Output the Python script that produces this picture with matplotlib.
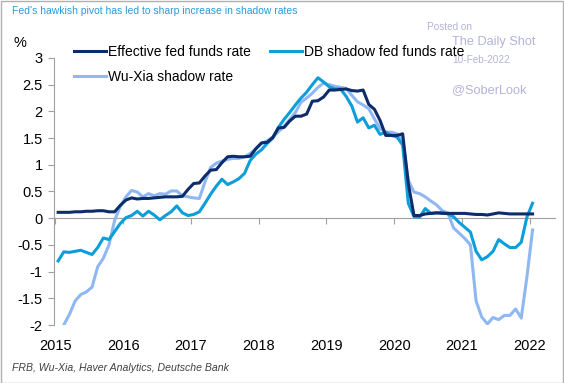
import numpy as np
import matplotlib
matplotlib.use('Agg')
import matplotlib.pyplot as plt
from matplotlib.patches import Rectangle

plt.rcParams['font.family'] = ['Liberation Sans', 'DejaVu Sans']

# Monthly data, Jan 2015 .. Jan 2022
effr = [0.11, 0.11, 0.11, 0.12, 0.12, 0.13, 0.13, 0.14, 0.14, 0.12, 0.12, 0.24,
        0.34, 0.38, 0.36, 0.37, 0.37, 0.38, 0.39, 0.40, 0.40, 0.40, 0.41, 0.54,
        0.65, 0.66, 0.79, 0.90, 0.91, 1.04, 1.15, 1.16, 1.15, 1.15, 1.16, 1.30,
        1.41, 1.42, 1.51, 1.69, 1.70, 1.82, 1.91, 1.91, 1.95, 2.19, 2.20, 2.27,
        2.40, 2.40, 2.41, 2.42, 2.39, 2.38, 2.40, 2.13, 2.04, 1.83, 1.55, 1.55,
        1.55, 1.58, 0.65, 0.05, 0.05, 0.08, 0.09, 0.10, 0.09, 0.09, 0.09, 0.09,
        0.09, 0.08, 0.07, 0.07, 0.06, 0.08, 0.10, 0.09, 0.08, 0.08, 0.08, 0.08,
        0.08]

db_shadow = [-0.80, -0.63, -0.64, -0.62, -0.60, -0.64, -0.68, -0.55, -0.37, -0.40, -0.25, -0.10,
             0.01, 0.05, 0.13, 0.04, 0.13, 0.06, -0.03, 0.05, 0.12, 0.23, 0.10, 0.05,
             0.07, 0.12, 0.28, 0.45, 0.60, 0.73, 0.63, 0.68, 0.74, 0.84, 1.08, 1.20,
             1.28, 1.40, 1.50, 1.70, 1.85, 1.98, 2.12, 2.25, 2.36, 2.50, 2.63, 2.55,
             2.46, 2.42, 2.42, 2.28, 2.10, 1.80, 1.88, 1.69, 1.74, 1.57, 1.61, 1.55,
             1.52, 1.37, 0.28, 0.03, 0.02, 0.18, 0.09, 0.10, 0.11, 0.08, 0.03, -0.08,
             -0.17, -0.26, -0.62, -0.78, -0.72, -0.62, -0.40, -0.48, -0.55, -0.55, -0.45, 0.02,
             0.28]

wu_xia = [np.nan, -2.00, -1.80, -1.55, -1.43, -1.38, -1.29, -0.91, -0.75, -0.50, -0.04, 0.22,
          0.40, 0.52, 0.49, 0.40, 0.46, 0.42, 0.46, 0.45, 0.51, 0.51, 0.42, 0.40,
          0.38, 0.37, 0.68, 0.95, 1.03, 1.07, 1.10, 1.12, 1.12, 1.15, 1.21, 1.30,
          1.40, 1.45, 1.52, 1.62, 1.72, 1.85, 1.98, 2.17, 2.25, 2.34, 2.45, 2.53,
          2.50, 2.47, 2.45, 2.43, 2.30, 2.18, 2.12, 2.05, 1.86, 1.68, 1.61, 1.61,
          1.58, 1.46, 0.71, 0.49, 0.46, 0.40, 0.32, 0.25, 0.14, 0.10, -0.18, -0.28,
          -0.38, -0.50, -1.55, -1.85, -1.98, -1.86, -1.90, -1.82, -1.82, -1.70, -1.87, -1.10,
          -0.22]

years = list(range(2015, 2023))
yticks = [3, 2.5, 2, 1.5, 1, 0.5, 0, -0.5, -1, -1.5, -2]

# x position: middle of each month
x = 2015 + (np.arange(len(effr)) + 0.5) / 12

fig = plt.figure(figsize=(5.64, 3.83), dpi=100)
ax = fig.add_axes([0.0957, 0.1514, 0.888, 0.6972])

ax.plot(x, effr, color='#0c2c6b', lw=2.2, label='Effective fed funds rate', zorder=3)
ax.plot(x, wu_xia, color='#8fb8f2', lw=2.2, label='Wu-Xia shadow rate', zorder=2)
ax.plot(x, db_shadow, color='#0b9ed8', lw=2.2, label='DB shadow fed funds rate', zorder=2)

ax.set_xlim(2014.98, 2022.37)
ax.set_ylim(-2, 3)
ax.set_yticks(yticks)
ax.set_yticklabels([('%g' % v) for v in yticks])
ax.set_xticks(years)
ax.set_xticklabels([str(y) for y in years])

for s in ['top', 'right', 'bottom']:
    ax.spines[s].set_visible(False)
ax.spines['left'].set_color('#a0a0a0')
ax.tick_params(axis='y', length=4, color='#a0a0a0', labelsize=10.5, pad=4)
ax.tick_params(axis='x', length=0, labelsize=10.5, pad=10)

# zero line with year ticks
sec = ax.secondary_xaxis(0.4)
sec.set_xticks(years)
sec.set_xticklabels([])
sec.spines['bottom'].set_color('#a0a0a0')
sec.tick_params(axis='x', length=4, color='#a0a0a0')

fig.legend(loc='upper left', bbox_to_anchor=(0.131, 1 - 45 / 383), ncol=2,
           frameon=False, fontsize=10, handlelength=2.3, handletextpad=0.15,
           columnspacing=1.4, labelspacing=0.8, borderpad=0, borderaxespad=0)

fig.text(0.021, 1 - 11 / 383, "Fed's hawkish pivot has led to sharp increase in shadow rates",
         color='#2a9ad8', fontsize=7.5, va='center')
fig.text(0.024, 1 - 43 / 383, '%', fontsize=10.5, va='center')
fig.text(0.021, 1 - 368 / 383, 'FRB, Wu-Xia, Haver Analytics, Deutsche Bank',
         fontsize=7.6, style='italic', color='#404040', va='center')

wm = '#b3b3d9'
fig.text(427 / 564, 1 - 27 / 383, 'Posted on', color=wm, fontsize=7.2, va='center')
fig.text(452 / 564, 1 - 42 / 383, 'The Daily Shot', color=wm, fontsize=9.2, va='center')
fig.text(452 / 564, 1 - 60 / 383, '10-Feb-2022', color=wm, fontsize=7.2, va='center')
fig.text(452 / 564, 1 - 90 / 383, '@SoberLook', color=wm, fontsize=9.2, va='center')

fig.patches.append(Rectangle((0.001, 0.001), 0.997, 0.997, transform=fig.transFigure,
                             fill=False, edgecolor='#b0b0b0', lw=1))

fig.savefig('out.png', dpi=100)
